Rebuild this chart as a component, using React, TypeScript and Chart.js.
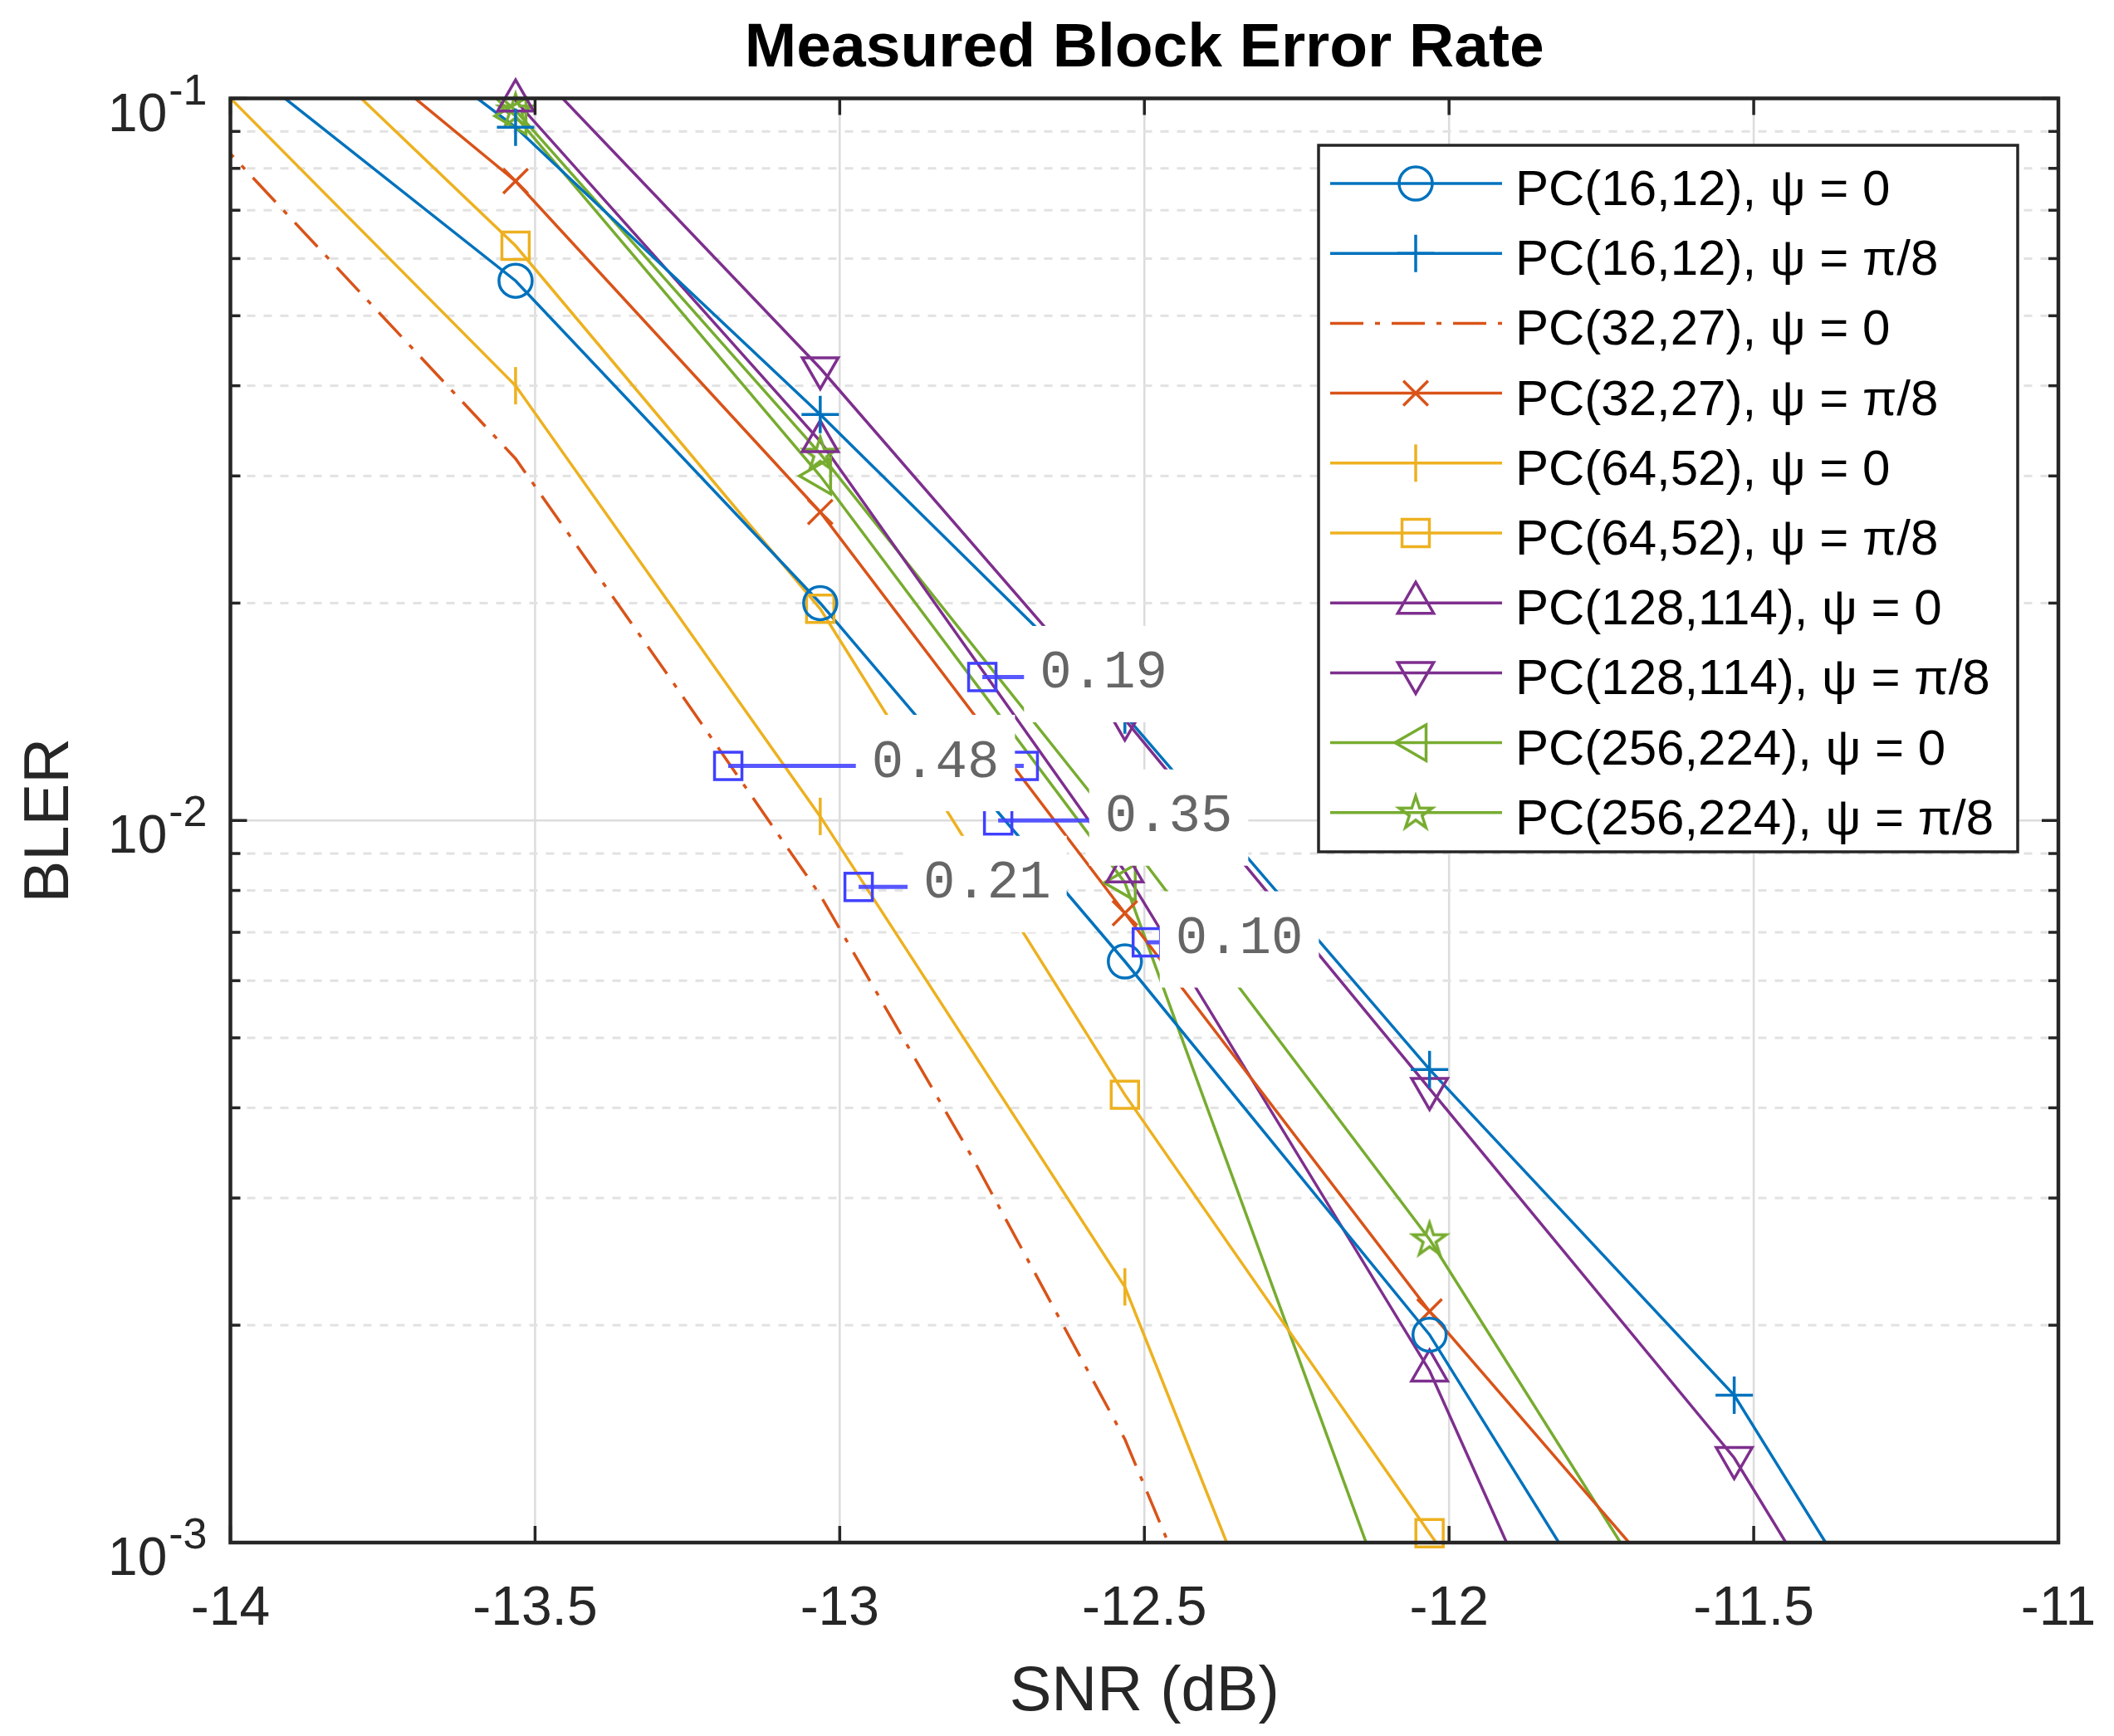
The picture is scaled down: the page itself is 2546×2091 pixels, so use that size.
import React, { useEffect, useRef } from 'react';
import { Chart, registerables } from 'chart.js';
import { drawPoint } from 'chart.js/helpers';

Chart.register(...registerables);

const W = 2546;
const H = 2091;
const FONT = "'Liberation Sans', Arial, Helvetica, sans-serif";
const MONO = "'Liberation Mono', 'Courier New', monospace";

// SNR grid of the measured points (dB)
const snr = [-14.032, -13.532, -13.032, -12.532, -12.032, -11.532, -11.032];
// finer grid used by the PC(32,27) psi=0 curve
const snrFine = [-14.032, -13.532, -13.282, -13.032, -12.782, -12.532, -12.282];

const bler16_0 = [0.1205, 0.0559, 0.02, 0.00638, 0.00194, 0.000407, null];
const bler16_pi8 = [0.19, 0.0912, 0.0365, 0.014, 0.00452, 0.0016, 0.000334];
const bler32_0 = [0.0896, 0.0317, 0.0159, 0.00788, 0.00341, 0.00139, 0.000437];
const bler32_pi8 = [0.171, 0.0768, 0.02674, 0.00744, 0.00209, 0.000678, null];
const bler64_0 = [0.1065, 0.04, 0.01013, 0.00226, 0.000197, null, null];
const bler64_pi8 = [0.158, 0.0625, 0.01964, 0.00417, 0.00103, 0.00026, null];
const bler128_0 = [0.22, 0.0993, 0.0335, 0.0085, 0.00173, 0.000198, null];
const bler128_pi8 = [null, 0.117, 0.0423, 0.0138, 0.00425, 0.00131, 0.000267];
const bler256_0 = [0.23, 0.0945, 0.03, 0.0082, 0.000575, null, null];
const bler256_pi8 = [0.23, 0.0962, 0.0322, 0.00951, 0.00263, 0.000562, null];

const labels = [
  'PC(16,12), ψ = 0',
  'PC(16,12), ψ = π/8',
  'PC(32,27), ψ = 0',
  'PC(32,27), ψ = π/8',
  'PC(64,52), ψ = 0',
  'PC(64,52), ψ = π/8',
  'PC(128,114), ψ = 0',
  'PC(128,114), ψ = π/8',
  'PC(256,224), ψ = 0',
  'PC(256,224), ψ = π/8',
];

// gap annotations (dB gap between two curves at a given BLER)
const tipLabels = ['0.19', '0.48', '0.35', '0.21', '0.10'];
const tipBler = [0.0158, 0.0119, 0.01, 0.00809, 0.00678];
const tipSnrFrom = [-12.766, -13.183, -12.74, -12.969, -12.496];
const tipSnrTo = [-12.576, -12.698, -12.39, -12.759, -12.396];
const tipTextSnr = [-12.6635, -12.9395, -12.5566, -12.8546, -12.4407];

const xTicks = [-14, -13.5, -13, -12.5, -12, -11.5, -11];
const yDecades = [-3, -2, -1];
const yMinor = [2, 3, 4, 5, 6, 7, 8, 9];

const BLUE = '#0072BD';
const RED = '#D95319';
const YELLOW = '#EDB120';
const PURPLE = '#7E2F8E';
const GREEN = '#77AC30';
const LW = 3.5;

function makeStar(color: string) {
  const c = document.createElement('canvas');
  c.width = 50;
  c.height = 50;
  const g = c.getContext('2d')!;
  g.strokeStyle = color;
  g.lineWidth = LW;
  g.lineJoin = 'miter';
  g.beginPath();
  const R = 21;
  const r = R * 0.382;
  for (let i = 0; i < 10; i++) {
    const rad = (Math.PI / 5) * i - Math.PI / 2;
    const rr = i % 2 === 0 ? R : r;
    const px = 25 + Math.cos(rad) * rr;
    const py = 26 + Math.sin(rad) * rr;
    if (i === 0) g.moveTo(px, py);
    else g.lineTo(px, py);
  }
  g.closePath();
  g.stroke();
  return c;
}

interface SeriesDef {
  label: string;
  xs: number[];
  ys: (number | null)[];
  color: string;
  marker: any;
  radius: number;
  rotation?: number;
  dash?: number[];
}

export default function App() {
  const canvasRef = useRef<HTMLCanvasElement>(null);

  useEffect(() => {
    if (!canvasRef.current) return;
    const star = makeStar(GREEN);

    const series: SeriesDef[] = [
      { label: labels[0], xs: snr, ys: bler16_0, color: BLUE, marker: 'circle', radius: 20 },
      { label: labels[1], xs: snr, ys: bler16_pi8, color: BLUE, marker: 'cross', radius: 22.5 },
      { label: labels[2], xs: snrFine, ys: bler32_0, color: RED, marker: null, radius: 0, dash: [40, 14, 6, 14] },
      { label: labels[3], xs: snr, ys: bler32_pi8, color: RED, marker: 'crossRot', radius: 21 },
      { label: labels[4], xs: snr, ys: bler64_0, color: YELLOW, marker: 'line', rotation: 90, radius: 22.5 },
      { label: labels[5], xs: snr, ys: bler64_pi8, color: YELLOW, marker: 'rect', radius: 23.3 },
      { label: labels[6], xs: snr, ys: bler128_0, color: PURPLE, marker: 'triangle', radius: 25 },
      { label: labels[7], xs: snr, ys: bler128_pi8, color: PURPLE, marker: 'triangle', rotation: 180, radius: 25 },
      { label: labels[8], xs: snr, ys: bler256_0, color: GREEN, marker: 'triangle', rotation: 270, radius: 25 },
      { label: labels[9], xs: snr, ys: bler256_pi8, color: GREEN, marker: star, radius: 21 },
    ];

    const toPts = (s: SeriesDef) =>
      s.xs.map((x, i) => ({ x, y: s.ys[i] })).filter((p) => p.y !== null) as { x: number; y: number }[];

    const datasets: any[] = [];
    series.forEach((s) => {
      datasets.push({
        label: s.label,
        data: toPts(s),
        borderColor: s.color,
        borderWidth: LW,
        borderDash: s.dash || [],
        pointRadius: 0,
        fill: false,
        tension: 0,
        clip: 0,
        order: 2,
      });
    });
    series.forEach((s) => {
      if (!s.marker) return;
      datasets.push({
        label: s.label + ' markers',
        data: toPts(s).filter((p) => p.y >= 0.00095 && p.y <= 0.105),
        showLine: false,
        pointStyle: s.marker,
        pointRadius: s.radius,
        pointRotation: s.rotation || 0,
        pointBorderColor: s.color,
        pointBackgroundColor: 'rgba(0,0,0,0)',
        pointBorderWidth: LW,
        clip: false,
        order: 1,
      });
    });

    const matlabLook = {
      id: 'matlabLook',
      beforeDraw(chart: any) {
        const ctx = chart.ctx;
        ctx.save();
        ctx.fillStyle = '#ffffff';
        ctx.fillRect(0, 0, chart.width, chart.height);
        ctx.restore();
      },
      beforeDatasetsDraw(chart: any) {
        const { ctx, chartArea: a, scales } = chart;
        const xs = scales.x;
        const ys = scales.y;
        ctx.save();
        const seg = (x1: number, y1: number, x2: number, y2: number) => {
          ctx.beginPath();
          ctx.moveTo(x1, y1);
          ctx.lineTo(x2, y2);
          ctx.stroke();
        };
        ctx.strokeStyle = '#dcdcdc';
        ctx.lineWidth = 2.5;
        xTicks.forEach((v) => {
          const px = xs.getPixelForValue(v);
          if (px > a.left + 2 && px < a.right - 2) seg(px, a.top, px, a.bottom);
        });
        yDecades.forEach((e) => {
          const py = ys.getPixelForValue(Math.pow(10, e));
          if (py > a.top + 2 && py < a.bottom - 2) seg(a.left, py, a.right, py);
        });
        ctx.setLineDash([10, 10]);
        ctx.strokeStyle = '#e2e2e2';
        ctx.lineWidth = 3;
        yDecades.slice(0, -1).forEach((e) => {
          yMinor.forEach((m) => {
            const py = ys.getPixelForValue(m * Math.pow(10, e));
            seg(a.left, py, a.right, py);
          });
        });
        ctx.restore();
      },
      afterDatasetsDraw(chart: any) {
        const { ctx, chartArea: a, scales } = chart;
        const xs = scales.x;
        const ys = scales.y;
        const seg = (x1: number, y1: number, x2: number, y2: number) => {
          ctx.beginPath();
          ctx.moveTo(x1, y1);
          ctx.lineTo(x2, y2);
          ctx.stroke();
        };
        ctx.save();

        // gap annotations: squares + connectors first
        ctx.setLineDash([]);
        tipLabels.forEach((_, i) => {
          const py = ys.getPixelForValue(tipBler[i]);
          const p1 = xs.getPixelForValue(tipSnrFrom[i]);
          const p2 = xs.getPixelForValue(tipSnrTo[i]);
          ctx.strokeStyle = 'rgba(70,70,255,0.9)';
          ctx.lineWidth = 5;
          seg(p1, py, p2, py);
          ctx.strokeStyle = '#4040ff';
          ctx.lineWidth = 3.5;
          ctx.strokeRect(p1 - 16.5, py - 16.5, 33, 33);
          ctx.strokeRect(p2 - 16.5, py - 16.5, 33, 33);
        });
        // then the white text boxes
        ctx.font = `64px ${MONO}`;
        tipLabels.forEach((t, i) => {
          const py = ys.getPixelForValue(tipBler[i]);
          const tx = xs.getPixelForValue(tipTextSnr[i]) - 6;
          const tw = ctx.measureText(t).width;
          ctx.fillStyle = '#ffffff';
          ctx.fillRect(tx - 19, py - 61.5, tw + 38, 116);
          ctx.fillStyle = '#666666';
          ctx.textAlign = 'left';
          ctx.textBaseline = 'alphabetic';
          ctx.fillText(t, tx, py + 13);
        });

        // axes box and inward ticks
        ctx.strokeStyle = '#262626';
        ctx.lineWidth = 3.5;
        xTicks.forEach((v) => {
          const px = xs.getPixelForValue(v);
          seg(px, a.bottom, px, a.bottom - 20);
          seg(px, a.top, px, a.top + 20);
        });
        yDecades.forEach((e) => {
          const py = ys.getPixelForValue(Math.pow(10, e));
          seg(a.left, py, a.left + 20, py);
          seg(a.right, py, a.right - 20, py);
        });
        yDecades.slice(0, -1).forEach((e) => {
          yMinor.forEach((m) => {
            const py = ys.getPixelForValue(m * Math.pow(10, e));
            seg(a.left, py, a.left + 12, py);
            seg(a.right, py, a.right - 12, py);
          });
        });
        ctx.lineWidth = 4.5;
        ctx.strokeRect(a.left, a.top, a.right - a.left, a.bottom - a.top);

        // tick labels
        ctx.fillStyle = '#262626';
        ctx.font = `66px ${FONT}`;
        ctx.textAlign = 'center';
        ctx.textBaseline = 'alphabetic';
        xTicks.forEach((v) => {
          ctx.fillText(String(v), xs.getPixelForValue(v), a.bottom + 99);
        });
        yDecades.forEach((e) => {
          const py = ys.getPixelForValue(Math.pow(10, e));
          const xr = a.left - 28;
          ctx.textAlign = 'right';
          ctx.font = `52px ${FONT}`;
          const sup = String(e);
          const sw = ctx.measureText(sup).width;
          ctx.fillText(sup, xr, py + 7);
          ctx.font = `64px ${FONT}`;
          ctx.fillText('10', xr - sw - 2, py + 39);
        });

        // axis titles
        ctx.textAlign = 'center';
        ctx.font = `76px ${FONT}`;
        const cx = (a.left + a.right) / 2;
        ctx.fillText('SNR (dB)', cx, a.bottom + 202);
        ctx.save();
        ctx.translate(82, (a.top + a.bottom) / 2);
        ctx.rotate(-Math.PI / 2);
        ctx.fillText('BLER', 0, 0);
        ctx.restore();

        // title
        ctx.fillStyle = '#000000';
        ctx.font = `bold 75px ${FONT}`;
        ctx.fillText('Measured Block Error Rate', cx, 80);

        // legend
        const lx0 = 1588;
        const ly0 = 175;
        const lx1 = 2430;
        const ly1 = 1026;
        ctx.fillStyle = '#ffffff';
        ctx.fillRect(lx0, ly0, lx1 - lx0, ly1 - ly0);
        ctx.strokeStyle = '#262626';
        ctx.lineWidth = 3.5;
        ctx.strokeRect(lx0, ly0, lx1 - lx0, ly1 - ly0);
        series.forEach((s, i) => {
          const y = 221 + i * 84.2;
          ctx.strokeStyle = s.color;
          ctx.lineWidth = LW;
          ctx.setLineDash(s.dash || []);
          seg(1602, y, 1809, y);
          ctx.setLineDash([]);
          if (s.marker) {
            ctx.fillStyle = 'rgba(0,0,0,0)';
            drawPoint(ctx, { pointStyle: s.marker, rotation: s.rotation || 0, radius: s.radius, borderWidth: LW } as any, 1705, y);
          }
          ctx.fillStyle = '#000000';
          ctx.font = `60px ${FONT}`;
          ctx.textAlign = 'left';
          ctx.textBaseline = 'alphabetic';
          ctx.fillText(s.label, 1825, y + 26);
        });

        ctx.restore();
      },
    };

    const config: any = {
      type: 'line',
      data: { datasets },
      options: {
        responsive: false,
        animation: false,
        devicePixelRatio: 1,
        events: [],
        layout: { padding: { top: 118.5, right: W - 2479, left: 0, bottom: 0 } },
        plugins: { legend: { display: false }, tooltip: { enabled: false }, title: { display: false } },
        scales: {
          x: {
            type: 'linear',
            min: -14,
            max: -11,
            grid: { display: false },
            border: { display: false },
            ticks: { display: false },
            afterFit: (s: any) => {
              s.height = H - 1858;
            },
          },
          y: {
            type: 'logarithmic',
            min: 0.001,
            max: 0.1,
            grid: { display: false },
            border: { display: false },
            ticks: { display: false },
            afterFit: (s: any) => {
              s.width = 277.5;
            },
          },
        },
      },
      plugins: [matlabLook],
    };

    const chart = new Chart(canvasRef.current, config);
    return () => {
      chart.destroy();
    };
  }, []);

  return (
    <div style={{ position: 'absolute', left: 0, top: 0, width: W, height: H, background: '#fff' }}>
      <canvas ref={canvasRef} width={W} height={H} style={{ display: 'block', width: W, height: H }} />
    </div>
  );
}
